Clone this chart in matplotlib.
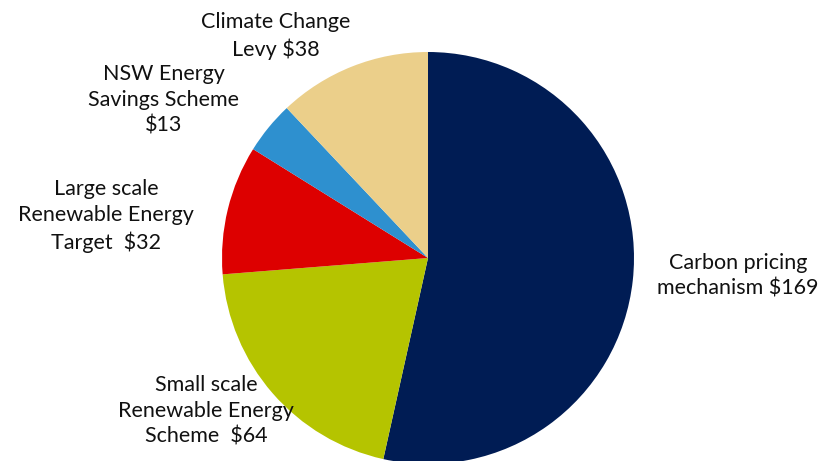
import matplotlib
matplotlib.use("Agg")
import matplotlib.pyplot as plt

# Datos del gráfico
categorias = ["Carbon pricing\nmechanism $169",
              "Small scale\nRenewable Energy\nScheme  $64",
              "Large scale\nRenewable Energy\nTarget  $32",
              "NSW Energy\nSavings Scheme\n$13",
              "Climate Change\nLevy $38"]
valores = [169, 64, 32, 13, 38]
colores = ["#001c54", "#b5c400", "#dd0000", "#2e90cf", "#ebcf8a"]

# Posiciones de las etiquetas (pixeles, origen abajo-izquierda)
pos_etiquetas = [(738, 185), (206, 50), (106, 245), (164, 361), (276, 425)]

plt.rcParams['font.family'] = ['Lato', 'DejaVu Sans']

fig = plt.figure(figsize=(8.23, 4.61), dpi=100)
ax = fig.add_axes([0, 0, 1, 1])

ax.pie(valores, colors=colores, center=(428, 203), radius=206,
       startangle=90, counterclock=False, frame=True,
       wedgeprops={'linewidth': 0})
ax.set_xlim(0, 823)
ax.set_ylim(0, 461)
ax.set_aspect('equal')
ax.axis('off')

for texto, (x, y) in zip(categorias, pos_etiquetas):
    ax.text(x, y, texto, ha='center', va='center', fontsize=15.5,
            linespacing=1.36, color='#111111')

fig.savefig("out.png", dpi=100)
